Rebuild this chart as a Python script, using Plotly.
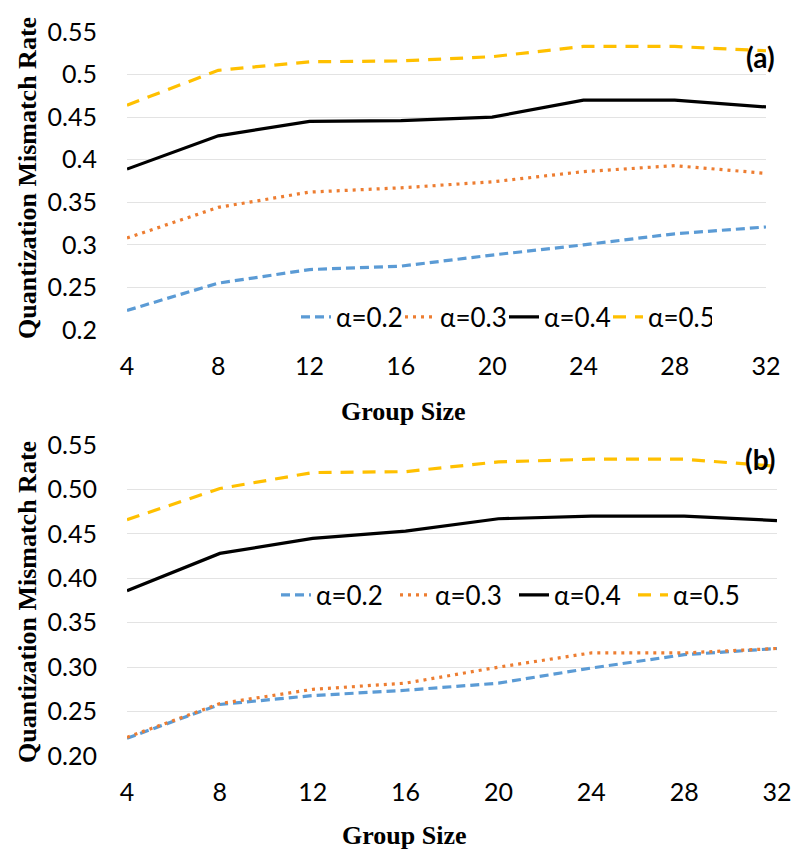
import plotly.graph_objects as go

group_size = [4, 8, 12, 16, 20, 24, 28, 32]
series_names = ["α=0.2", "α=0.3", "α=0.4", "α=0.5"]

# Panel (a)
a_02 = [0.223, 0.255, 0.271, 0.275, 0.288, 0.300, 0.313, 0.321]
a_03 = [0.308, 0.344, 0.362, 0.367, 0.374, 0.386, 0.393, 0.384]
a_04 = [0.389, 0.428, 0.445, 0.446, 0.450, 0.470, 0.470, 0.462]
a_05 = [0.464, 0.505, 0.515, 0.516, 0.521, 0.533, 0.533, 0.528]

# Panel (b)
b_02 = [0.220, 0.258, 0.268, 0.274, 0.282, 0.299, 0.314, 0.321]
b_03 = [0.221, 0.259, 0.275, 0.282, 0.300, 0.316, 0.316, 0.321]
b_04 = [0.386, 0.428, 0.445, 0.453, 0.467, 0.470, 0.470, 0.465]
b_05 = [0.466, 0.501, 0.519, 0.520, 0.531, 0.534, 0.534, 0.526]

y_ticks = [0.20, 0.25, 0.30, 0.35, 0.40, 0.45, 0.50, 0.55]
a_tick_text = ["0.2", "0.25", "0.3", "0.35", "0.4", "0.45", "0.5", "0.55"]
b_tick_text = ["0.20", "0.25", "0.30", "0.35", "0.40", "0.45", "0.50", "0.55"]

colors = ["#5B9BD5", "#ED7D31", "#000000", "#FFC000"]
dashes = ["9px,5px", "3px,5px", "solid", "13px,9px"]

# page body has an 8px margin; figure is sized to fit the 800x852 window
OFF = 8
W, H = 800 - OFF, 852 - OFF
def px_x(p):
    return (p - OFF) / W
def px_y(p):
    return 1 - (p - OFF) / H

fig = go.Figure()
panels = [(a_02, a_03, a_04, a_05), (b_02, b_03, b_04, b_05)]
for pi, data in enumerate(panels):
    xa = "x" if pi == 0 else "x2"
    ya = "y" if pi == 0 else "y2"
    for si, vals in enumerate(data):
        fig.add_trace(go.Scatter(
            x=group_size, y=vals, mode="lines", name=series_names[si],
            line=dict(color=colors[si], width=3.2, dash=dashes[si]),
            xaxis=xa, yaxis=ya,
            legend="legend" if pi == 0 else "legend2",
        ))

tick_font = dict(family="Lato, Carlito, sans-serif", size=25, color="#000000")
legend_font = dict(family="Lato, Carlito, sans-serif", size=26, color="#000000")
grid_col = "#E3E3E3"

common_x = dict(range=[4, 32], tickvals=group_size, showgrid=False, zeroline=False,
                showline=False, ticks="", tickfont=tick_font, ticklabelstandoff=19,
                automargin=False)
common_y = dict(range=[0.2, 0.55], tickvals=y_ticks, showgrid=True, gridcolor=grid_col,
                gridwidth=1.2, zeroline=False, showline=False, ticks="",
                tickfont=tick_font, ticklabelstandoff=29, automargin=False)

fig.update_layout(
    width=W, height=H,
    margin=dict(l=0, r=0, t=0, b=0, autoexpand=False),
    paper_bgcolor="white", plot_bgcolor="white",
    xaxis=dict(common_x, domain=[px_x(127), px_x(766)], anchor="y"),
    yaxis=dict(common_y, domain=[px_y(330), px_y(32)], ticktext=a_tick_text, anchor="x"),
    xaxis2=dict(common_x, domain=[px_x(127), px_x(777)], anchor="y2"),
    yaxis2=dict(common_y, domain=[px_y(756), px_y(445)], ticktext=b_tick_text, anchor="x2"),
    legend=dict(orientation="h", x=px_x(296), y=px_y(317), xanchor="left", yanchor="middle",
                font=legend_font, bgcolor="rgba(0,0,0,0)", entrywidth=59,
                entrywidthmode="pixels", itemwidth=30, tracegroupgap=0),
    legend2=dict(orientation="h", x=px_x(276), y=px_y(595), xanchor="left", yanchor="middle",
                 font=legend_font, bgcolor="rgba(0,0,0,0)", entrywidth=74,
                 entrywidthmode="pixels", itemwidth=30, tracegroupgap=0),
    showlegend=True,
)

title_font = dict(family="Liberation Serif, Times New Roman, serif", size=26, color="#000000")
annotations = [
    dict(text="<b>Quantization Mismatch Rate</b>", x=px_x(27), y=px_y(178), textangle=-90),
    dict(text="<b>Quantization Mismatch Rate</b>", x=px_x(27), y=px_y(602), textangle=-90),
    dict(text="<b>Group Size</b>", x=px_x(403), y=px_y(412)),
    dict(text="<b>Group Size</b>", x=px_x(404), y=px_y(835)),
]
for a in annotations:
    fig.add_annotation(xref="paper", yref="paper", xanchor="center", yanchor="middle",
                       showarrow=False, font=title_font, **a)
for lbl, yy in [("(a)", 57), ("(b)", 459)]:
    fig.add_annotation(xref="paper", yref="paper", x=px_x(760), y=px_y(yy), text="<b>" + lbl + "</b>",
                       showarrow=False, xanchor="center", yanchor="middle",
                       font=dict(family="Lato, Carlito, sans-serif", size=28, color="#000000"))

fig.write_html("out.html")
